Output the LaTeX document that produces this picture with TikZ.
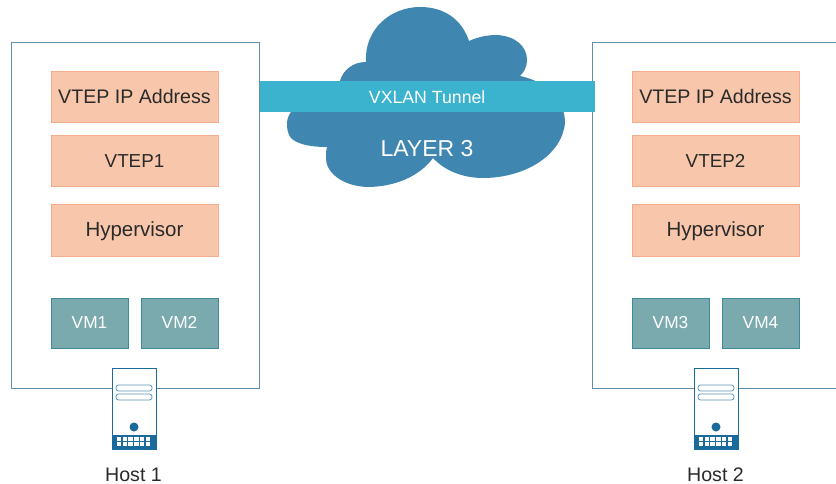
\documentclass[tikz,border=0pt]{standalone}
\usepackage{fontspec}
\setmainfont{Liberation Sans}
\definecolor{cloudc}{HTML}{3F86B0}
\definecolor{tunc}{HTML}{3BB3CF}
\definecolor{hostl}{HTML}{5F8FAD}
\definecolor{peach}{HTML}{F8C7AB}
\definecolor{peachl}{HTML}{F0AE8A}
\definecolor{vmf}{HTML}{7AA9AE}
\definecolor{vml}{HTML}{3E8A99}
\definecolor{srv}{HTML}{1A6A9C}
\definecolor{txt}{HTML}{2A2A2A}
\tikzset{
 hostbox/.style={draw=hostl,line width=1pt,fill=white,minimum width=248pt,minimum height=345pt,anchor=north west,inner sep=0},
 peachbox/.style={draw=peachl,line width=1pt,fill=peach,minimum width=167pt,minimum height=51pt,anchor=north west,inner sep=0,text=txt,text height=14pt,text depth=1.5pt,font=\fontsize{19.6}{20}\selectfont},
 vmbox/.style={draw=vml,line width=1pt,fill=vmf,minimum width=77pt,minimum height=50pt,anchor=north west,inner sep=0,text=white,text height=12.4pt,text depth=1pt,font=\fontsize{17.3}{20}\selectfont},
 hostlabel/.style={text=txt,font=\fontsize{19.6}{20}\selectfont,inner sep=0},
 server/.pic={
  \draw[srv,line width=1pt,fill=white] (-22,-21) rectangle (22,60.5);
  \fill[srv] (-22,46) rectangle (22,60.5);
  \draw[srv!70,line width=.8pt,fill=white,rounded corners=2.5pt] (-18,-4) rectangle (18,2);
  \draw[srv!70,line width=.8pt,fill=white,rounded corners=2.5pt] (-18,5) rectangle (18,11);
  \fill[srv] (0,38) circle (4.5);
  \foreach \x in {-17,-11.3,-5.6,0.1,5.8,11.5}{\foreach \y in {48.3,53.3}{\fill[white] (\x,\y) rectangle +(4.4,3.2);}}
 }
}
\begin{document}
\begin{tikzpicture}[x=1pt,y=-1pt]
\useasboundingbox (0,0) rectangle (836,484);
\fill[cloudc] (366,62) .. controls (364,30) and (390,7) .. (420,7)
 .. controls (445,7) and (462,20) .. (469,41)
 .. controls (480,36) and (490,35) .. (497,35)
 .. controls (515,36) and (527,46) .. (527,60)
 .. controls (527,67) and (524,72) .. (520,76)
 .. controls (548,82) and (565,100) .. (565,123)
 .. controls (562,155) and (525,178) .. (483,178)
 .. controls (462,178) and (444,170) .. (433,158)
 .. controls (420,176) and (395,187) .. (367,187)
 .. controls (342,186) and (325,172) .. (326,157)
 .. controls (326,153) and (326,150) .. (327,147)
 .. controls (305,147) and (292,142) .. (289,135)
 .. controls (287,130) and (287,126) .. (287,123)
 .. controls (287,105) and (320,90) .. (340,81)
 .. controls (343,70) and (353,62) .. (366,62) -- cycle;
\node[hostbox] (h1) at (10.5,42.5) {};
\node[hostbox] (h2) at (591.5,42.5) {};
\node[peachbox] (a1) at (50.5,71) {VTEP IP Address};
\node[peachbox] (b1) at (50.5,135.5) {\fontsize{18.8}{20}\selectfont VTEP1};
\node[peachbox] (c1) at (50.5,204.5) {\fontsize{20.5}{20}\selectfont Hypervisor};
\node[vmbox] (v1) at (50.5,297.5) {VM1};
\node[vmbox] (v2) at (140.5,297.5) {VM2};
\node[peachbox] (a2) at (631.5,71) {VTEP IP Address};
\node[peachbox] (b2) at (631.5,135.5) {\fontsize{18.8}{20}\selectfont VTEP2};
\node[peachbox] (c2) at (631.5,204.5) {\fontsize{20.5}{20}\selectfont Hypervisor};
\node[vmbox] (v3) at (631.5,297.5) {VM3};
\node[vmbox] (v4) at (721.5,297.5) {VM4};
\node[fill=tunc,minimum width=335pt,minimum height=31pt,anchor=north west,inner sep=0,text=white,font=\fontsize{17.7}{20}\selectfont] (t) at (259.5,81) {VXLAN Tunnel};
\node[text=white,font=\fontsize{23}{25}\selectfont,inner sep=0] (l3) at (427,149) {LAYER 3};
\pic at (134,389) {server};
\pic at (716,389) {server};
\node[hostlabel] (n1) at (133.5,474.5) {Host 1};
\node[hostlabel] (n2) at (715.5,474.5) {Host 2};
\end{tikzpicture}
\end{document}
